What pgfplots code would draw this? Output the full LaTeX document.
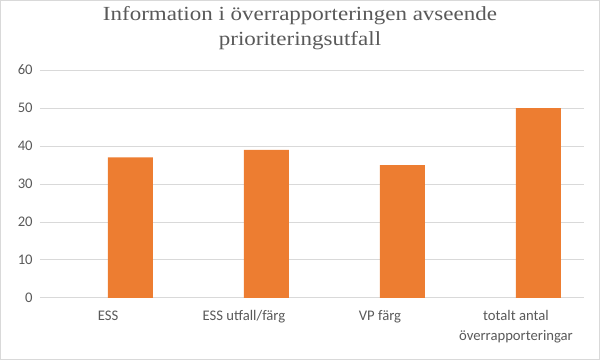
\documentclass[border=0pt]{standalone}
\usepackage{fontspec}
\setmainfont{Liberation Serif}
\newfontfamily\titlefont[FakeStretch=1.15]{Liberation Serif}
\newfontfamily\carlito{Carlito}
\usepackage{pgfplots}
\pgfplotsset{compat=1.18}
\definecolor{txtgray}{HTML}{595959}
\definecolor{gridgray}{HTML}{D9D9D9}
\definecolor{barorange}{HTML}{ED7D31}
\begin{document}
\begin{tikzpicture}
\draw[gridgray, line width=0.8pt] (-29.6pt,-46.1pt) rectangle (419.6pt,223.1pt);
\begin{axis}[
  at={(0,0)}, anchor=south west,
  scale only axis,
  width=408pt, height=171pt,
  xmin=-0.5, xmax=3.5,
  ymin=0, ymax=60,
  ytick={0,10,...,60},
  xtick={0,1,2,3},
  xticklabels={ESS, ESS utfall/färg, VP färg, {totalt antal\\överrapporteringar}},
  xticklabel style={align=center, font=\carlito\fontsize{11}{15}\selectfont, text=txtgray, yshift=-6pt},
  yticklabel style={font=\carlito\fontsize{11}{12}\selectfont, text=txtgray, xshift=-2pt},
  /pgf/number format/assume math mode=true,
  major tick length=0pt,
  axis line style={draw=none},
  ymajorgrids,
  grid style={gridgray, line width=0.75pt},
  clip=false,
]
\addplot[ybar, bar width=0.33, fill=barorange, draw=none] coordinates {
  (0.165,37) (1.165,39) (2.165,35) (3.165,50)
};
\end{axis}
\node[anchor=base, text=txtgray, font=\titlefont\fontsize{15}{17}\selectfont] at (195pt,208pt) {Information i överrapporteringen avseende};
\node[anchor=base, text=txtgray, font=\titlefont\fontsize{15}{17}\selectfont] at (195pt,189pt) {prioriteringsutfall};
\end{tikzpicture}
\end{document}
